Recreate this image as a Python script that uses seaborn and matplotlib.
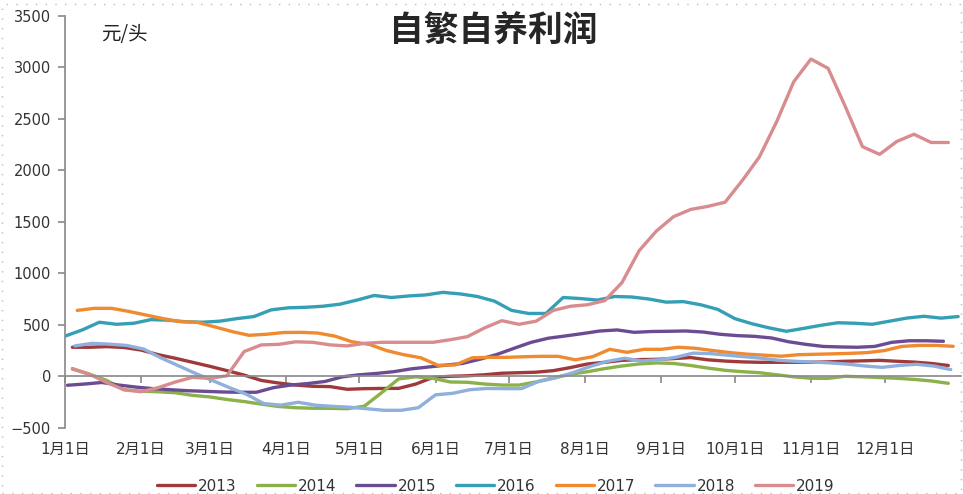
import numpy as np
import pandas as pd
import seaborn as sns
import matplotlib.pyplot as plt
from matplotlib.patches import Rectangle

# weekly profit, 元/头; first observation day (day of year) per series
years = ["2013", "2014", "2015", "2016", "2017", "2018", "2019"]
start_day = {"2013": 3, "2014": 3, "2015": 1, "2016": 0, "2017": 5, "2018": 4, "2019": 3}

p2013 = [282, 282, 288, 280, 255, 210, 175, 136, 97, 55, 12, -40, -65, -85, -97, -100,
         -126, -120, -118, -117, -75, -10, 0, 5, 15, 30, 35, 40, 55, 85, 120, 136,
         155, 162, 165, 172, 182, 160, 148, 140, 136, 136, 136, 136, 140, 146, 150, 155,
         146, 138, 125, 105]
p2014 = [75, 20, -40, -130, -145, -150, -160, -185, -200, -225, -245, -270, -293, -305, -310, -311,
         -315, -290, -160, -25, -5, -20, -55, -58, -75, -85, -85, -55, -15, 20, 45, 75,
         100, 120, 130, 125, 105, 80, 58, 45, 35, 15, -5, -19, -20, 0, -5, -12,
         -19, -30, -45, -68]
p2015 = [-87, -75, -60, -85, -105, -120, -130, -140, -146, -152, -155, -155, -110, -85, -70, -50,
         -5, 15, 28, 45, 72, 90, 108, 125, 165, 212, 272, 330, 370, 392, 415, 440,
         450, 427, 435, 437, 440, 430, 408, 395, 388, 372, 335, 310, 290, 285, 282, 290,
         330, 345, 345, 340]
p2016 = [390, 450, 525, 505, 515, 550, 545, 530, 525, 535, 560, 580, 645, 665, 670, 680,
         700, 740, 785, 765, 780, 790, 815, 800, 775, 730, 640, 610, 610, 765, 755, 740,
         775, 770, 750, 720, 725, 695, 650, 560, 510, 470, 437, 465, 495, 520, 515, 505,
         535, 565, 583, 565, 580]
p2017 = [640, 660, 660, 630, 595, 560, 530, 524, 480, 435, 398, 408, 425, 427, 420, 390,
         335, 310, 250, 210, 180, 107, 110, 180, 184, 184, 190, 194, 194, 160, 190, 262,
         233, 262, 262, 282, 272, 250, 230, 215, 205, 195, 210, 214, 218, 223, 230, 250,
         290, 300, 300, 291]
p2018 = [295, 320, 312, 300, 265, 180, 105, 30, -40, -110, -175, -265, -280, -252, -280, -292,
         -300, -315, -330, -330, -305, -180, -165, -130, -118, -120, -120, -50, -15, 35, 95, 145,
         175, 150, 160, 185, 225, 220, 205, 190, 175, 155, 145, 138, 130, 118, 100, 87,
         105, 117, 100, 65]
p2019 = [70, 20, -60, -130, -150, -110, -55, -10, -20, 5, 240, 305, 310, 335, 330, 305,
         295, 320, 330, 330, 330, 330, 355, 385, 470, 540, 505, 535, 640, 680, 695, 735,
         910, 1220, 1410, 1550, 1620, 1650, 1690, 1900, 2130, 2470, 2860, 3080, 2990, 2620, 2230, 2155,
         2280, 2350, 2270, 2270]

month_days = [0, 31, 59, 90, 120, 151, 181, 212, 243, 273, 304, 334]
month_labels = ["1月1日", "2月1日", "3月1日", "4月1日", "5月1日", "6月1日",
                "7月1日", "8月1日", "9月1日", "10月1日", "11月1日", "12月1日"]

colors = ["#A0393A", "#8AB14A", "#6B4C93", "#35A0B5", "#F08A30", "#8FAFDC", "#D98C8E"]

series = dict(zip(years, [p2013, p2014, p2015, p2016, p2017, p2018, p2019]))
rows = []
for y, vals in series.items():
    for i, v in enumerate(vals):
        rows.append({"year": y, "day": start_day[y] + 7 * i, "profit": v})
df = pd.DataFrame(rows)

sns.set_theme(style="white")
plt.rcParams["font.family"] = ["DejaVu Sans", "Noto Sans CJK SC"]

fig = plt.figure(figsize=(9.63, 4.94), dpi=100)
ax = fig.add_axes([0.0675, 0.134, 0.93, 0.834])

sns.lineplot(data=df, x="day", y="profit", hue="year", palette=colors,
             linewidth=2.4, ax=ax, legend=False)

ax.set_xlim(0, 365)
ax.set_ylim(-500, 3500)
ax.set_yticks(np.arange(-500, 3501, 500))
ax.set_xlabel("")
ax.set_ylabel("")

grey = "#8C8C8C"
for s in ["top", "right"]:
    ax.spines[s].set_visible(False)
ax.spines["left"].set_color(grey)
ax.spines["bottom"].set_color(grey)
ax.spines["bottom"].set_position(("data", 0))
ax.set_xticks(month_days)
ax.tick_params(axis="x", direction="out", length=5, color=grey, labelbottom=False, bottom=True)
ax.tick_params(axis="y", direction="out", length=5, color=grey, labelsize=10.5,
               labelcolor="#333333", pad=5, left=True)

sec = ax.secondary_xaxis("bottom")
sec.set_xticks(month_days)
sec.set_xticklabels(month_labels)
sec.tick_params(length=0, labelsize=11, labelcolor="#333333", pad=10)
sec.spines["bottom"].set_visible(False)

fig.text(0.512, 0.937, "自繁自养利润", ha="center", va="center", fontsize=25,
         fontweight="bold", family=["Noto Sans CJK SC"])
ax.text(0.04, 0.955, "元/头", transform=ax.transAxes, ha="left", va="center",
        fontsize=14, color="#222222", family=["Noto Sans CJK SC"])

handles = [plt.Line2D([0], [0], color=c, lw=2.4) for c in colors]
fig.legend(handles, years, loc="center", bbox_to_anchor=(0.515, 0.016), ncol=7,
           frameon=False, fontsize=11, handlelength=2.5, columnspacing=1.3,
           handletextpad=0.2, labelcolor="#333333")

fig.patches.append(Rectangle((0.002, 0.002), 0.996, 0.99, transform=fig.transFigure,
                             fill=False, edgecolor="#BBBBBB", linestyle=(0, (1, 6)), lw=1))

fig.savefig("out.png", dpi=100)
